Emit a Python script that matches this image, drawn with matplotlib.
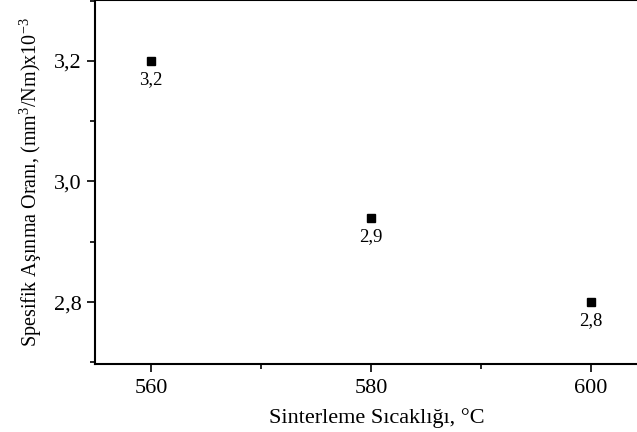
import matplotlib
matplotlib.use('Agg')
import matplotlib.pyplot as plt
from matplotlib.ticker import MultipleLocator, FuncFormatter

# sintering temperature vs specific wear rate
temps = [560, 580, 600]
wear_rate = [3.2, 2.94, 2.8]
point_labels = ['3,2', '2,9', '2,8']

plt.rcParams['font.family'] = ['Liberation Serif', 'DejaVu Serif']
plt.rcParams['mathtext.fontset'] = 'custom'
plt.rcParams['mathtext.rm'] = 'Liberation Serif'
plt.rcParams['mathtext.it'] = 'Liberation Serif:italic'

fig = plt.figure(figsize=(6.37, 4.32), dpi=100)
ax = fig.add_axes([0.149, 0.157, 0.851, 0.843])

ax.plot(temps, wear_rate, 's', color='black', ms=6, linestyle='none')
for x, y, lab in zip(temps, wear_rate, point_labels):
    ax.annotate(lab, (x, y), xytext=(0, -13.5), textcoords='offset points',
                ha='center', va='center', fontsize=13.5)

ax.set_xlim(554.9, 604.2)
ax.set_ylim(2.697, 3.301)
ax.xaxis.set_major_locator(MultipleLocator(20))
ax.xaxis.set_minor_locator(MultipleLocator(10))
ax.yaxis.set_major_locator(MultipleLocator(0.2))
ax.yaxis.set_minor_locator(MultipleLocator(0.1))
ax.yaxis.set_major_formatter(FuncFormatter(lambda v, p: f'{v:.1f}'.replace('.', ',')))

ax.tick_params(which='major', direction='out', length=6, width=1.2, labelsize=16)
ax.tick_params(which='minor', direction='out', length=3.5, width=1.2)
ax.tick_params(axis='x', which='major', pad=5)
for s in ['left', 'bottom', 'top']:
    ax.spines[s].set_linewidth(1.5)
ax.spines['right'].set_visible(False)

ax.set_xlabel('Sinterleme Sıcaklığı, °C', fontsize=16)
ax.xaxis.set_label_coords(0.52, -0.12)
ax.set_ylabel('Spesifik Aşınma Oranı, (mm$^3$/Nm)x10$^{-3}$', fontsize=14.5, labelpad=7)

fig.savefig('out.png', dpi=100)
